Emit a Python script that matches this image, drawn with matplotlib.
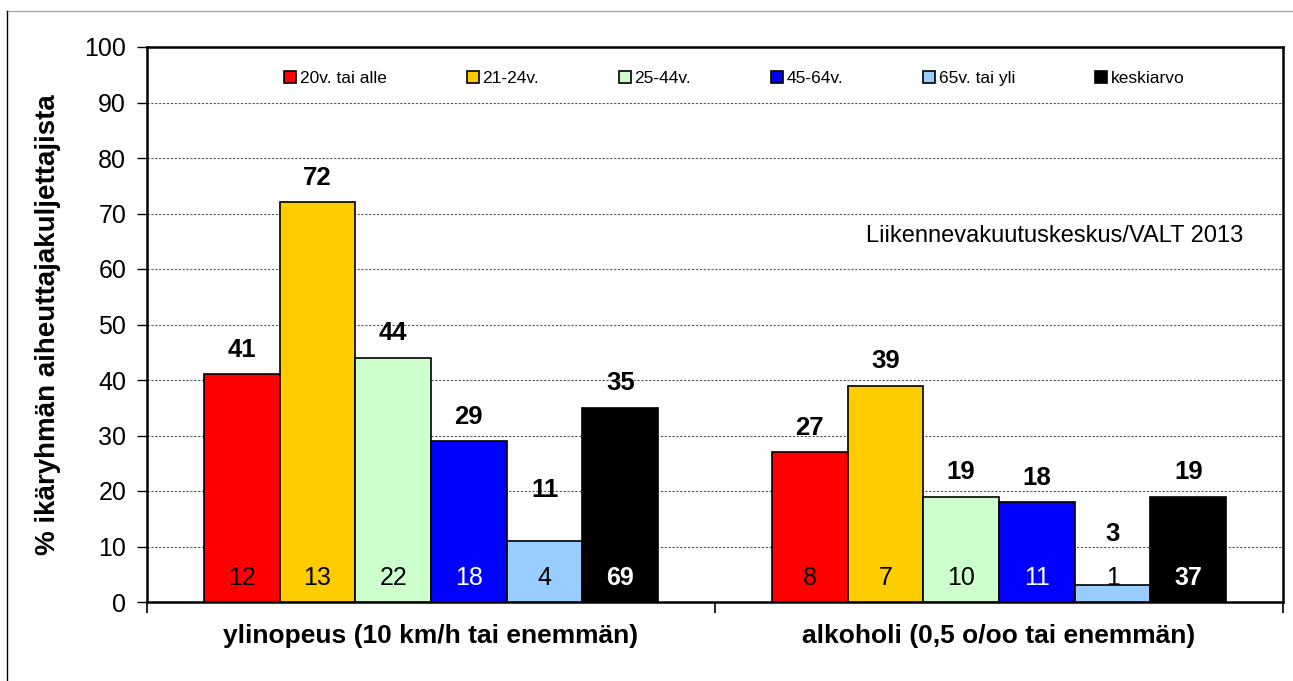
import matplotlib
matplotlib.use('Agg')
import matplotlib.pyplot as plt
from matplotlib.lines import Line2D
import numpy as np

plt.rcParams['font.family'] = ['Liberation Sans', 'DejaVu Sans']

# data
groups = ['ylinopeus (10 km/h tai enemmän)', 'alkoholi (0,5 o/oo tai enemmän)']
ages = ['20v. tai alle', '21-24v.', '25-44v.', '45-64v.', '65v. tai yli', 'keskiarvo']
pct_speed = [41, 72, 44, 29, 11, 35]
pct_alcohol = [27, 39, 19, 18, 3, 19]
n_speed = [12, 13, 22, 18, 4, 69]
n_alcohol = [8, 7, 10, 11, 1, 37]
colors = ['#ff0000', '#ffcc00', '#ccffcc', '#0000ff', '#99ccff', '#000000']
inner_colors = ['black', 'black', 'black', 'white', 'black', 'white']

pct = np.array([pct_speed, pct_alcohol])
cnt = np.array([n_speed, n_alcohol])

fig = plt.figure(figsize=(12.93, 6.81), dpi=100)
ax = fig.add_axes([147/1293, 79/681, (1283-147)/1293, (602-47)/681])

x = np.arange(len(groups))
w = 0.8 / len(ages)
for i, age in enumerate(ages):
    xs = x - 0.4 + w * (i + 0.5)
    bars = ax.bar(xs, pct[:, i], w, color=colors[i], edgecolor='black',
                  linewidth=1.2, label=age, zorder=3)
    extra = 19 if i == 4 else 0
    for b, v, n in zip(bars, pct[:, i], cnt[:, i]):
        cx = b.get_x() + b.get_width() / 2
        ax.annotate(str(v), (cx, v), xytext=(0, 9 + extra), textcoords='offset points',
                    ha='center', va='bottom', fontsize=18.5, fontweight='bold', zorder=5)
        ax.annotate(str(n), (cx, 0), xytext=(0, 17), textcoords='offset points',
                    ha='center', va='center', fontsize=18, color=inner_colors[i],
                    fontweight='bold' if i == 5 else 'normal', zorder=5)

ax.set_ylim(0, 100)
ax.set_xlim(-0.5, 1.5)
ax.set_yticks(np.arange(0, 101, 10))
ax.tick_params(axis='y', labelsize=18, direction='out', length=7, width=1, pad=8)
ax.yaxis.grid(True, linestyle=(0, (2, 1.5)), color='#555555', linewidth=0.8, zorder=0)
ax.set_xticks([-0.5, 0.5, 1.5])
ax.set_xticklabels([])
ax.set_xticks(x, minor=True)
ax.set_xticklabels(groups, minor=True, fontsize=19, fontweight='bold')
ax.tick_params(axis='x', which='major', direction='out', length=8, width=1.2)
ax.tick_params(axis='x', which='minor', length=0, pad=16)
for s in ax.spines.values():
    s.set_linewidth(1.8)

ax.set_ylabel('% ikäryhmän aiheuttajakuljettajista', fontsize=20, fontweight='bold', labelpad=17)

ax.legend(loc='upper center', bbox_to_anchor=(0.517, 0.985), ncol=6, frameon=False,
          fontsize=12.5, handlelength=0.7, handleheight=0.7, handletextpad=0.2,
          columnspacing=4.6)

ax.text(0.965, 0.66, 'Liikennevakuutuskeskus/VALT 2013', transform=ax.transAxes,
        ha='right', va='center', fontsize=17)

# outer frame
fig.add_artist(Line2D([7/1293, 1], [1 - 11/681, 1 - 11/681], color='#aaaaaa', linewidth=1))
fig.add_artist(Line2D([7/1293, 7/1293], [0, 1 - 11/681], color='black', linewidth=1))

fig.savefig('out.png', dpi=100)
